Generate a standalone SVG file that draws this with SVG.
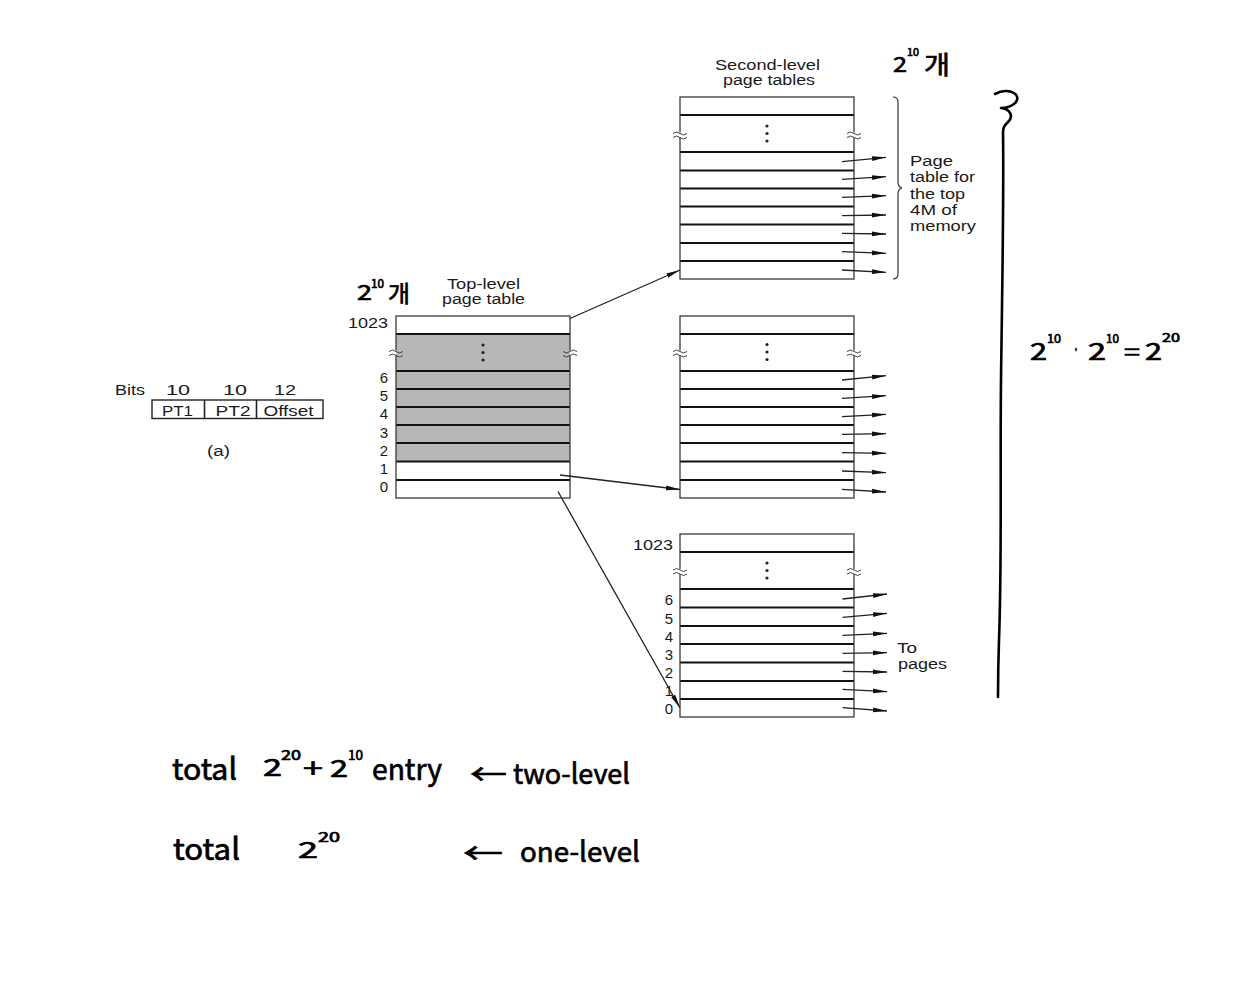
<svg xmlns="http://www.w3.org/2000/svg" xmlns:xlink="http://www.w3.org/1999/xlink" width="1249" height="1000" viewBox="0 0 1249 1000">
<style>
.bg{fill:#fff}
.frame{fill:none;stroke:#3a3a3a;stroke-width:1.3}
.row{stroke:#111;stroke-width:1.9}
.lbl{font-family:"Liberation Sans",Arial,sans-serif;font-size:15.5px;fill:#1a1a1a}
.num{font-family:"Liberation Sans",Arial,sans-serif;font-size:15px;fill:#1a1a1a}
.hw{font-family:"Noto Sans CJK KR","Noto Sans",sans-serif;fill:#000;stroke:#000;stroke-width:0.7}
.con{stroke:#222;stroke-width:1.3;fill:none}
.dot{fill:#222}
.brk{fill:none;stroke:#444;stroke-width:1}
.ink{fill:none;stroke:#000;stroke-width:2.6;stroke-linecap:round;stroke-linejoin:round}
</style>
<defs>
<marker id="ah" markerUnits="userSpaceOnUse" markerWidth="15" markerHeight="6" refX="14" refY="3" orient="auto">
<path d="M0,0.6 L14,3 L0,5.4 Z" fill="#111"/>
</marker>
<g id="brkmark">
<rect x="-2.5" y="-2.5" width="5" height="5" fill="#fff"/>
<path class="brk" d="M-7,-1.5 q3.5,-3 7,0 t7,0"/>
<path class="brk" d="M-7,2.5 q3.5,-3 7,0 t7,0"/>
</g>
<g id="brkmarkg">
<rect x="-2.5" y="-2.5" width="2.5" height="5" fill="#fff"/>
<rect x="0" y="-2.5" width="2.5" height="5" fill="#b7b7b7"/>
<path class="brk" d="M-7,-1.5 q3.5,-3 7,0 t7,0"/>
<path class="brk" d="M-7,2.5 q3.5,-3 7,0 t7,0"/>
</g>
</defs>
<rect width="1249" height="1000" class="bg"/>

<!-- (a) address format -->
<g id="address-format">
<text class="lbl" x="115" y="395" textLength="30" lengthAdjust="spacingAndGlyphs">Bits</text>
<text class="lbl" x="178" y="395" text-anchor="middle" textLength="24" lengthAdjust="spacingAndGlyphs">10</text>
<text class="lbl" x="235" y="395" text-anchor="middle" textLength="24" lengthAdjust="spacingAndGlyphs">10</text>
<text class="lbl" x="285" y="395" text-anchor="middle" textLength="22" lengthAdjust="spacingAndGlyphs">12</text>
<rect x="152" y="400" width="171" height="18.5" fill="#fff" stroke="#222" stroke-width="1.4"/>
<line x1="204.5" y1="400" x2="204.5" y2="418.5" stroke="#222" stroke-width="1.6"/>
<line x1="256.5" y1="400" x2="256.5" y2="418.5" stroke="#222" stroke-width="1.6"/>
<text class="lbl" x="177.5" y="416" text-anchor="middle" textLength="31" lengthAdjust="spacingAndGlyphs">PT1</text>
<text class="lbl" x="233" y="416" text-anchor="middle" textLength="35" lengthAdjust="spacingAndGlyphs">PT2</text>
<text class="lbl" x="288.5" y="416" text-anchor="middle" textLength="50" lengthAdjust="spacingAndGlyphs">Offset</text>
<text class="lbl" x="218.5" y="456" text-anchor="middle" textLength="23" lengthAdjust="spacingAndGlyphs">(a)</text>
</g>

<!-- Top-level page table -->
<g id="top-level-table">
<text class="lbl" x="483.5" y="289" text-anchor="middle" textLength="73" lengthAdjust="spacingAndGlyphs">Top-level</text>
<text class="lbl" x="483.5" y="304" text-anchor="middle" textLength="83" lengthAdjust="spacingAndGlyphs">page table</text>
<rect x="396" y="316" width="174" height="182" fill="#fff"/>
<rect x="396" y="334" width="174" height="127" fill="#b7b7b7"/>
<line class="row" x1="396" y1="334" x2="570" y2="334"/>
<line class="row" x1="396" y1="371" x2="570" y2="371"/>
<line class="row" x1="396" y1="389" x2="570" y2="389"/>
<line class="row" x1="396" y1="407" x2="570" y2="407"/>
<line class="row" x1="396" y1="425" x2="570" y2="425"/>
<line class="row" x1="396" y1="443" x2="570" y2="443"/>
<line class="row" x1="396" y1="461.5" x2="570" y2="461.5"/>
<line class="row" x1="396" y1="480" x2="570" y2="480"/>
<rect class="frame" x="396" y="316" width="174" height="182"/>
<circle class="dot" cx="483" cy="345" r="1.6"/>
<circle class="dot" cx="483" cy="352.5" r="1.6"/>
<circle class="dot" cx="483" cy="360" r="1.6"/>
<use xlink:href="#brkmarkg" x="396" y="353"/>
<use xlink:href="#brkmarkg" x="570" y="353" transform="translate(1140,0) scale(-1,1)"/>
<text class="num" x="388" y="328" text-anchor="end" textLength="40" lengthAdjust="spacingAndGlyphs">1023</text>
<text class="num" x="388" y="382.5" text-anchor="end">6</text>
<text class="num" x="388" y="400.5" text-anchor="end">5</text>
<text class="num" x="388" y="419" text-anchor="end">4</text>
<text class="num" x="388" y="437.5" text-anchor="end">3</text>
<text class="num" x="388" y="455.5" text-anchor="end">2</text>
<text class="num" x="388" y="474" text-anchor="end">1</text>
<text class="num" x="388" y="492" text-anchor="end">0</text>
</g>

<!-- Second-level page table (top 4M) -->
<g id="second-level-top">
<text class="lbl" x="767.5" y="70" text-anchor="middle" textLength="105" lengthAdjust="spacingAndGlyphs">Second-level</text>
<text class="lbl" x="769" y="85" text-anchor="middle" textLength="92" lengthAdjust="spacingAndGlyphs">page tables</text>
<rect x="680" y="97" width="174" height="182" fill="#fff"/>
<line class="row" x1="680" y1="115" x2="854" y2="115"/>
<line class="row" x1="680" y1="152" x2="854" y2="152"/>
<line class="row" x1="680" y1="170.5" x2="854" y2="170.5"/>
<line class="row" x1="680" y1="188.5" x2="854" y2="188.5"/>
<line class="row" x1="680" y1="206.5" x2="854" y2="206.5"/>
<line class="row" x1="680" y1="224.5" x2="854" y2="224.5"/>
<line class="row" x1="680" y1="243" x2="854" y2="243"/>
<line class="row" x1="680" y1="261" x2="854" y2="261"/>
<rect class="frame" x="680" y="97" width="174" height="182"/>
<circle class="dot" cx="767" cy="126" r="1.6"/>
<circle class="dot" cx="767" cy="133.5" r="1.6"/>
<circle class="dot" cx="767" cy="141" r="1.6"/>
<use xlink:href="#brkmark" x="680" y="135"/>
<use xlink:href="#brkmark" x="854" y="135"/>
<path d="M893,97 Q898,97 898,102 L898,182 Q898,187 902,188 Q898,189 898,194 L898,274 Q898,279 893,279" fill="none" stroke="#333" stroke-width="1.2"/>
<text class="lbl" x="910" y="165.5" textLength="43" lengthAdjust="spacingAndGlyphs">Page</text>
<text class="lbl" x="910" y="182" textLength="65" lengthAdjust="spacingAndGlyphs">table for</text>
<text class="lbl" x="910" y="198.5" textLength="55" lengthAdjust="spacingAndGlyphs">the top</text>
<text class="lbl" x="910" y="215" textLength="47" lengthAdjust="spacingAndGlyphs">4M of</text>
<text class="lbl" x="910" y="231" textLength="66" lengthAdjust="spacingAndGlyphs">memory</text>
</g>

<!-- Second-level page table (middle) -->
<g id="second-level-middle">
<rect x="680" y="316" width="174" height="182" fill="#fff"/>
<line class="row" x1="680" y1="334" x2="854" y2="334"/>
<line class="row" x1="680" y1="371" x2="854" y2="371"/>
<line class="row" x1="680" y1="389" x2="854" y2="389"/>
<line class="row" x1="680" y1="407" x2="854" y2="407"/>
<line class="row" x1="680" y1="425" x2="854" y2="425"/>
<line class="row" x1="680" y1="443" x2="854" y2="443"/>
<line class="row" x1="680" y1="461.5" x2="854" y2="461.5"/>
<line class="row" x1="680" y1="480" x2="854" y2="480"/>
<rect class="frame" x="680" y="316" width="174" height="182"/>
<circle class="dot" cx="767" cy="344.5" r="1.6"/>
<circle class="dot" cx="767" cy="352" r="1.6"/>
<circle class="dot" cx="767" cy="359.5" r="1.6"/>
<use xlink:href="#brkmark" x="680" y="353"/>
<use xlink:href="#brkmark" x="854" y="353"/>
</g>

<!-- Second-level page table (bottom) -->
<g id="second-level-bottom">
<rect x="680" y="534" width="174" height="183" fill="#fff"/>
<line class="row" x1="680" y1="552" x2="854" y2="552"/>
<line class="row" x1="680" y1="589" x2="854" y2="589"/>
<line class="row" x1="680" y1="607.5" x2="854" y2="607.5"/>
<line class="row" x1="680" y1="626" x2="854" y2="626"/>
<line class="row" x1="680" y1="644" x2="854" y2="644"/>
<line class="row" x1="680" y1="662.5" x2="854" y2="662.5"/>
<line class="row" x1="680" y1="681" x2="854" y2="681"/>
<line class="row" x1="680" y1="699" x2="854" y2="699"/>
<rect class="frame" x="680" y="534" width="174" height="183"/>
<circle class="dot" cx="767" cy="563" r="1.6"/>
<circle class="dot" cx="767" cy="570.5" r="1.6"/>
<circle class="dot" cx="767" cy="578" r="1.6"/>
<use xlink:href="#brkmark" x="680" y="571.5"/>
<use xlink:href="#brkmark" x="854" y="571.5"/>
<text class="num" x="673" y="549.5" text-anchor="end" textLength="40" lengthAdjust="spacingAndGlyphs">1023</text>
<text class="num" x="673" y="605" text-anchor="end">6</text>
<text class="num" x="673" y="623.5" text-anchor="end">5</text>
<text class="num" x="673" y="641.5" text-anchor="end">4</text>
<text class="num" x="673" y="659.5" text-anchor="end">3</text>
<text class="num" x="673" y="677.5" text-anchor="end">2</text>
<text class="num" x="673" y="696" text-anchor="end">1</text>
<text class="num" x="673" y="714" text-anchor="end">0</text>
<text class="lbl" x="897" y="652.5" textLength="20" lengthAdjust="spacingAndGlyphs">To</text>
<text class="lbl" x="898" y="669" textLength="49" lengthAdjust="spacingAndGlyphs">pages</text>
</g>

<!-- Connectors -->
<g id="connectors">
<line class="con" x1="570" y1="318.5" x2="680" y2="270" marker-end="url(#ah)"/>
<line class="con" x1="560" y1="475" x2="680" y2="489.5" marker-end="url(#ah)"/>
<line class="con" x1="558" y1="491.5" x2="680" y2="708" marker-end="url(#ah)"/>

<line class="con" x1="842" y1="161.7" x2="886" y2="157.3" marker-end="url(#ah)"/>
<line class="con" x1="842" y1="179.3" x2="886" y2="176.7" marker-end="url(#ah)"/>
<line class="con" x1="842" y1="197.3" x2="886" y2="195.7" marker-end="url(#ah)"/>
<line class="con" x1="842" y1="215.7" x2="886" y2="215" marker-end="url(#ah)"/>
<line class="con" x1="842" y1="233.3" x2="886" y2="234" marker-end="url(#ah)"/>
<line class="con" x1="842" y1="251.7" x2="886" y2="253.3" marker-end="url(#ah)"/>
<line class="con" x1="842" y1="270" x2="886" y2="272.3" marker-end="url(#ah)"/>

<line class="con" x1="842" y1="380" x2="886" y2="375.7" marker-end="url(#ah)"/>
<line class="con" x1="842" y1="398.3" x2="886" y2="395.7" marker-end="url(#ah)"/>
<line class="con" x1="842" y1="416.7" x2="886" y2="414.3" marker-end="url(#ah)"/>
<line class="con" x1="842" y1="434.3" x2="886" y2="433.7" marker-end="url(#ah)"/>
<line class="con" x1="842" y1="452.7" x2="886" y2="453.3" marker-end="url(#ah)"/>
<line class="con" x1="842" y1="471" x2="886" y2="472.7" marker-end="url(#ah)"/>
<line class="con" x1="842" y1="489.3" x2="886" y2="492" marker-end="url(#ah)"/>

<line class="con" x1="842.5" y1="599" x2="887" y2="594" marker-end="url(#ah)"/>
<line class="con" x1="842.5" y1="617.3" x2="887" y2="613.3" marker-end="url(#ah)"/>
<line class="con" x1="842.5" y1="635.3" x2="887" y2="633.3" marker-end="url(#ah)"/>
<line class="con" x1="842.5" y1="653.3" x2="887" y2="652.7" marker-end="url(#ah)"/>
<line class="con" x1="842.5" y1="671.3" x2="887" y2="672" marker-end="url(#ah)"/>
<line class="con" x1="842.5" y1="689.3" x2="887" y2="691.7" marker-end="url(#ah)"/>
<line class="con" x1="842.5" y1="707.7" x2="887" y2="711" marker-end="url(#ah)"/>
</g>

<!-- Handwritten annotations -->
<g id="annotations">
<text class="hw" x="357" y="300" font-size="21" textLength="15" lengthAdjust="spacingAndGlyphs">2</text>
<text class="hw" x="371" y="288" font-size="12" textLength="13" lengthAdjust="spacingAndGlyphs">10</text>
<text class="hw" x="388" y="302" font-size="23" textLength="22" lengthAdjust="spacingAndGlyphs">개</text>

<text class="hw" x="893" y="72" font-size="21" textLength="14" lengthAdjust="spacingAndGlyphs">2</text>
<text class="hw" x="907" y="56" font-size="11" textLength="12" lengthAdjust="spacingAndGlyphs">10</text>
<text class="hw" x="924" y="74" font-size="25" textLength="26" lengthAdjust="spacingAndGlyphs">개</text>

<path class="ink" d="M995,94 C1010,86 1024,96 1014,104 C1010,107 1004,108 1001,108 C1010,109 1014,116 1008,122 C1005,125 1003,127 1003,132 C1004,200 1002,300 1001,380 C1000,470 1002,560 999,640 C998,670 998,685 998,697"/>

<text class="hw" x="1030" y="360" font-size="23" textLength="17" lengthAdjust="spacingAndGlyphs">2</text>
<text class="hw" x="1047" y="343" font-size="12" textLength="14" lengthAdjust="spacingAndGlyphs">10</text>
<text class="hw" x="1073" y="357" font-size="22" textLength="6" lengthAdjust="spacingAndGlyphs">·</text>
<text class="hw" x="1088" y="360" font-size="23" textLength="18" lengthAdjust="spacingAndGlyphs">2</text>
<text class="hw" x="1106" y="343" font-size="12" textLength="13" lengthAdjust="spacingAndGlyphs">10</text>
<text class="hw" x="1124" y="360" font-size="22" textLength="16" lengthAdjust="spacingAndGlyphs">=</text>
<text class="hw" x="1145" y="360" font-size="23" textLength="17" lengthAdjust="spacingAndGlyphs">2</text>
<text class="hw" x="1162" y="342" font-size="12" textLength="18" lengthAdjust="spacingAndGlyphs">20</text>

<text class="hw" x="172" y="780" font-size="30" textLength="65" lengthAdjust="spacingAndGlyphs">total</text>
<text class="hw" x="263" y="776" font-size="24" textLength="19" lengthAdjust="spacingAndGlyphs">2</text>
<text class="hw" x="281" y="760" font-size="14" textLength="20" lengthAdjust="spacingAndGlyphs">20</text>
<text class="hw" x="303" y="778" font-size="26" textLength="20" lengthAdjust="spacingAndGlyphs">+</text>
<text class="hw" x="330" y="777" font-size="24" textLength="18" lengthAdjust="spacingAndGlyphs">2</text>
<text class="hw" x="348" y="760" font-size="13" textLength="15" lengthAdjust="spacingAndGlyphs">10</text>
<text class="hw" x="372" y="780" font-size="30" textLength="70" lengthAdjust="spacingAndGlyphs">entry</text>
<text class="hw" x="470" y="785" font-size="28" textLength="37" lengthAdjust="spacingAndGlyphs">←</text>
<text class="hw" x="513" y="784" font-size="28" textLength="117" lengthAdjust="spacingAndGlyphs">two-level</text>

<text class="hw" x="173" y="860" font-size="30" textLength="67" lengthAdjust="spacingAndGlyphs">total</text>
<text class="hw" x="298" y="858" font-size="22" textLength="20" lengthAdjust="spacingAndGlyphs">2</text>
<text class="hw" x="318" y="842" font-size="13" textLength="22" lengthAdjust="spacingAndGlyphs">20</text>
<text class="hw" x="463" y="864" font-size="28" textLength="40" lengthAdjust="spacingAndGlyphs">←</text>
<text class="hw" x="520" y="862" font-size="28" textLength="120" lengthAdjust="spacingAndGlyphs">one-level</text>
</g>
</svg>
